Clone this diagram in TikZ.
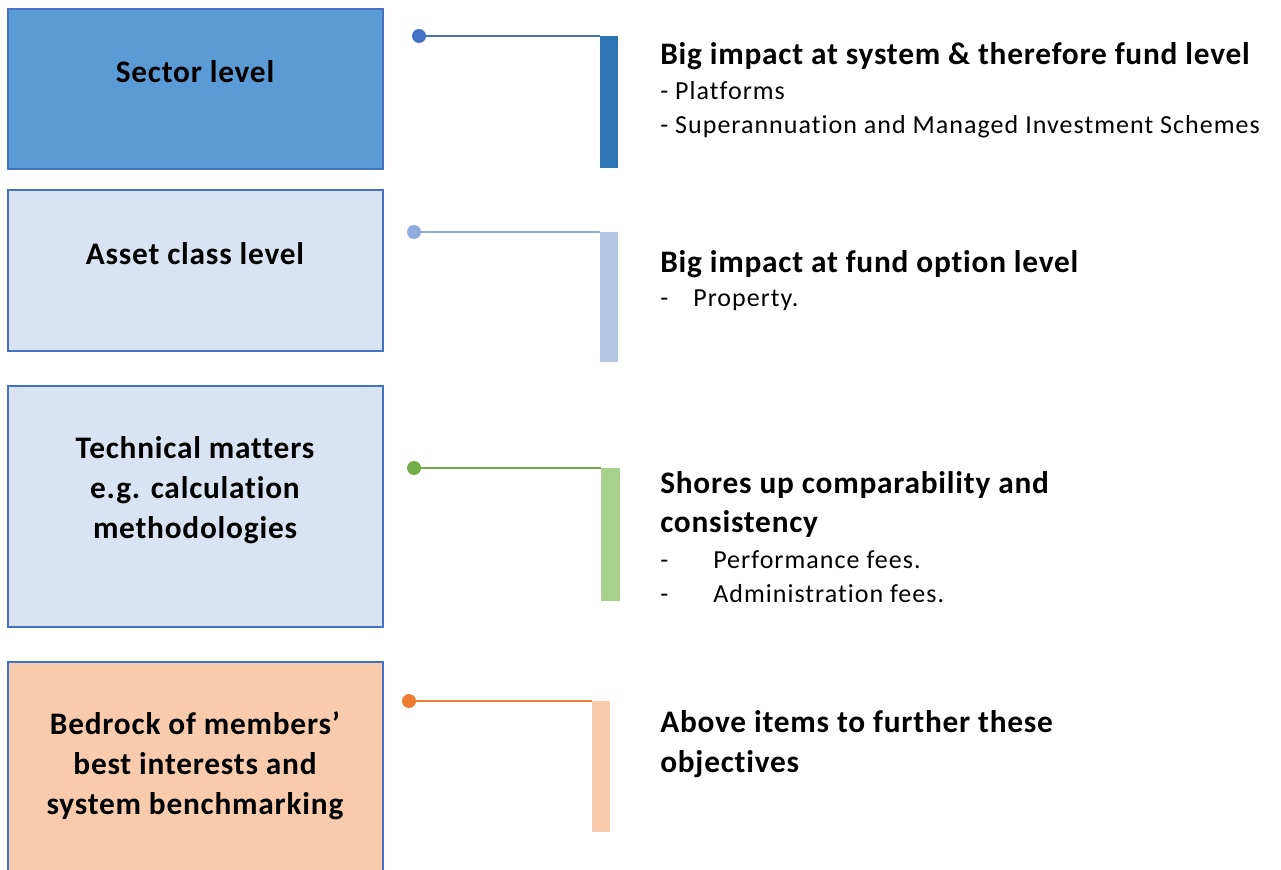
\documentclass[tikz,border=0pt]{standalone}
\usepackage{fontspec}
\setmainfont{Carlito}[Ligatures=NoCommon]
\newfontfamily\boldfam{Carlito}[LetterSpace=2.5, Ligatures=NoCommon]
\newfontfamily\itemfam{Carlito}[LetterSpace=4, Ligatures=NoCommon]

\definecolor{sectorblue}{HTML}{5B9BD5}
\definecolor{edgeblue}{HTML}{4472C4}
\definecolor{paleblue}{HTML}{DAE3F3}
\definecolor{paleorange}{HTML}{F8CBAD}
\definecolor{barblue}{HTML}{2E75B6}
\definecolor{barlight}{HTML}{B4C7E7}
\definecolor{dotlight}{HTML}{8FAADC}
\definecolor{bargreen}{HTML}{A9D18E}
\definecolor{dotgreen}{HTML}{70AD47}
\definecolor{dotorange}{HTML}{ED7D31}

\newcommand{\boldtext}{\boldfam\fontsize{23.5}{30}\selectfont\bfseries}
\newcommand{\itemtext}{\itemfam\fontsize{19.5}{22}\selectfont}

\tikzset{
  levelbox/.style={draw=edgeblue, line width=0.9pt},
  leveltext/.style={align=center, font=\boldtext, inner sep=0pt},
  righttext/.style={anchor=base west, inner sep=0pt},
  dot/.style={circle, inner sep=0pt, minimum size=10.5pt},
  leader/.style={line width=1.3pt}
}

\begin{document}
\begin{tikzpicture}[x=0.75pt,y=-0.75pt]
        \useasboundingbox (0,0) rectangle (1281,870);

        % Boxes on the left
        \filldraw[levelbox, fill=sectorblue] (8,9) rectangle (383,169);
        \filldraw[levelbox, fill=paleblue] (8,190) rectangle (383,351);
        \filldraw[levelbox, fill=paleblue] (8,386) rectangle (383,627);
        \filldraw[levelbox, fill=paleorange] (8,662) rectangle (383,880);

        \node[leveltext] (sector) at (195,72) {Sector level};
        \node[leveltext] (asset) at (195,254) {Asset class level};
        \node[leveltext] (technical) at (195,490) {Technical matters\\e.g. calculation\\methodologies};
        \node[leveltext] (bedrock) at (195,766) {Bedrock of members’\\best interests and\\system benchmarking};

        % Bars
        \fill[barblue] (600,36) rectangle (618,168);
        \fill[barlight] (600,232) rectangle (618,362);
        \fill[bargreen] (601,468) rectangle (620,601);
        \fill[paleorange] (592,701) rectangle (610,832);
        \coordinate (bartop1) at (600,36);
        \coordinate (bartop2) at (600,232);
        \coordinate (bartop3) at (601,468);
        \coordinate (bartop4) at (592,701);

        % Leader lines with dots
        \node[dot, fill=edgeblue] (dot1) at (419,36) {};
        \node[dot, fill=dotlight] (dot2) at (414,232) {};
        \node[dot, fill=dotgreen] (dot3) at (414,468) {};
        \node[dot, fill=dotorange] (dot4) at (409,701) {};
        \draw[leader, edgeblue] (dot1) -- (bartop1);
        \draw[leader, dotlight] (dot2) -- (bartop2);
        \draw[leader, dotgreen] (dot3) -- (bartop3);
        \draw[leader, dotorange] (dot4) -- (bartop4);

        % Text on the right
        \node[righttext, font=\boldtext] (impact1) at (660,65) {Big impact at system \& therefore fund level};
        \node[righttext, font=\itemtext] (platforms) at (660,100) {- Platforms};
        \node[righttext, font=\itemtext] (super) at (660,134) {- Superannuation and Managed Investment Schemes};

        \node[righttext, font=\boldtext] (impact2) at (660,272) {Big impact at fund option level};
        \node[righttext, font=\itemtext] (property) at (660,306) {\makebox[24.75pt][l]{-}Property.};

        \node[righttext, font=\boldtext] (shores1) at (660,493) {Shores up comparability and};
        \node[righttext, font=\boldtext] (shores2) at (660,532) {consistency};
        \node[righttext, font=\itemtext] (perf) at (660,568) {\makebox[39.75pt][l]{-}Performance fees.};
        \node[righttext, font=\itemtext] (admin) at (660,602) {\makebox[39.75pt][l]{-}Administration fees.};

        \node[righttext, font=\boldtext] (above1) at (660,732) {Above items to further these};
        \node[righttext, font=\boldtext] (above2) at (660,772) {objectives};

    \end{tikzpicture}
\end{document}
